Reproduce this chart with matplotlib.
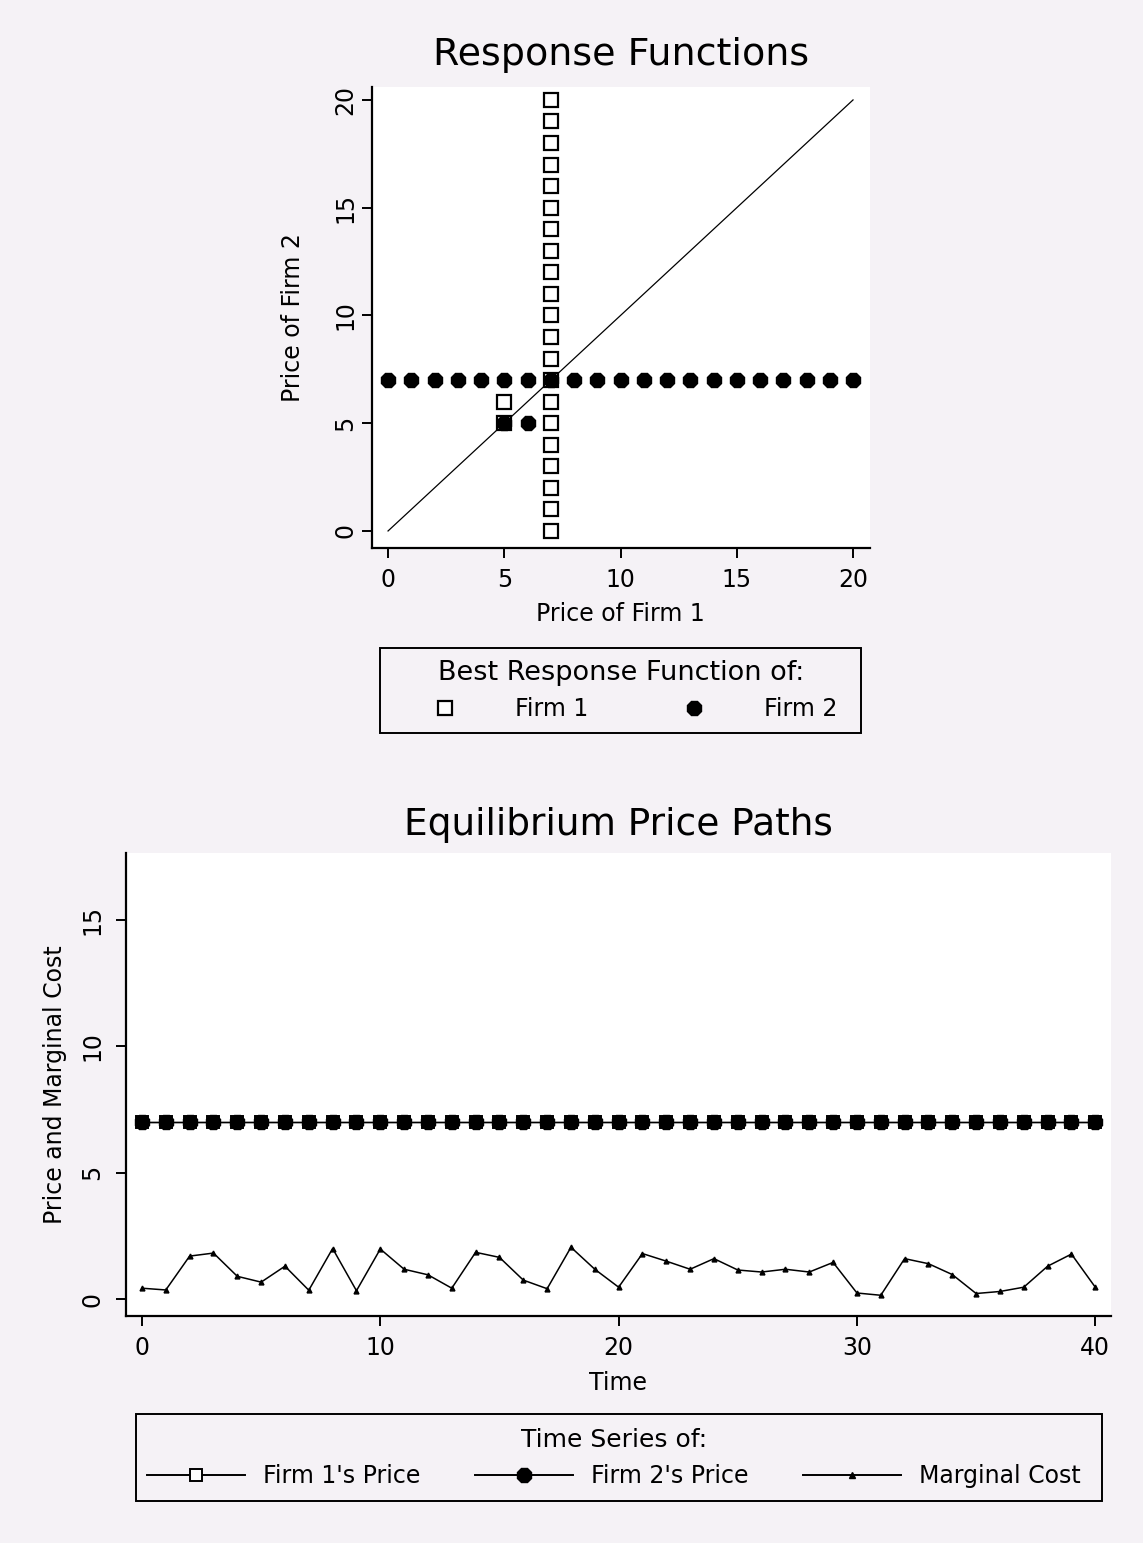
import matplotlib
matplotlib.use("Agg")
import matplotlib.pyplot as plt
from matplotlib.lines import Line2D
from matplotlib.patches import Rectangle

plt.rcParams['font.family'] = ['DejaVu Sans']

# ---------------- data ----------------
# Best response of Firm 1 (p1 given p2)
firm1_br_p1 = [7, 7, 7, 7, 7, 7, 7, 7, 7, 7, 7, 7, 7, 7, 7, 7, 7, 7, 7, 7, 7, 5, 5]
firm1_br_p2 = [0, 1, 2, 3, 4, 5, 6, 7, 8, 9, 10, 11, 12, 13, 14, 15, 16, 17, 18, 19, 20, 5, 6]
# Best response of Firm 2 (p2 given p1)
firm2_br_p1 = [0, 1, 2, 3, 4, 5, 6, 7, 8, 9, 10, 11, 12, 13, 14, 15, 16, 17, 18, 19, 20, 5, 6]
firm2_br_p2 = [7, 7, 7, 7, 7, 7, 7, 7, 7, 7, 7, 7, 7, 7, 7, 7, 7, 7, 7, 7, 7, 5, 5]
diag = [0, 20]

time = [0, 1, 2, 3, 4, 5, 6, 7, 8, 9, 10, 11, 12, 13, 14, 15, 16, 17, 18, 19, 20,
        21, 22, 23, 24, 25, 26, 27, 28, 29, 30, 31, 32, 33, 34, 35, 36, 37, 38, 39, 40]
firm1_price = [7, 7, 7, 7, 7, 7, 7, 7, 7, 7, 7, 7, 7, 7, 7, 7, 7, 7, 7, 7, 7,
               7, 7, 7, 7, 7, 7, 7, 7, 7, 7, 7, 7, 7, 7, 7, 7, 7, 7, 7, 7]
firm2_price = [7, 7, 7, 7, 7, 7, 7, 7, 7, 7, 7, 7, 7, 7, 7, 7, 7, 7, 7, 7, 7,
               7, 7, 7, 7, 7, 7, 7, 7, 7, 7, 7, 7, 7, 7, 7, 7, 7, 7, 7, 7]
marginal_cost = [0.43, 0.36, 1.70, 1.82, 0.90, 0.67, 1.30, 0.35, 2.00, 0.33, 1.98,
                 1.18, 0.96, 0.43, 1.85, 1.65, 0.75, 0.41, 2.05, 1.18, 0.47,
                 1.80, 1.50, 1.18, 1.60, 1.15, 1.07, 1.18, 1.07, 1.45, 0.24,
                 0.15, 1.60, 1.40, 0.97, 0.22, 0.30, 0.47, 1.30, 1.78, 0.47]

top_ticks = [0, 5, 10, 15, 20]
bottom_xticks = [0, 10, 20, 30, 40]
bottom_yticks = [0, 5, 10, 15]

# ---------------- figure ----------------
W, H = 1143, 1543
BG = '#f5f2f6'
fig = plt.figure(figsize=(W / 100, H / 100), dpi=100, facecolor=BG)


def rect(l, t, r, b):
    return [l / W, 1 - b / H, (r - l) / W, (b - t) / H]


def frame(l, t, r, b):
    fig.add_artist(Rectangle((l / W, 1 - b / H), (r - l) / W, (b - t) / H,
                             transform=fig.transFigure, facecolor='none',
                             edgecolor='black', linewidth=1.4, zorder=5))


def style(ax, xpad, ypad):
    ax.set_facecolor('white')
    for s in ['top', 'right']:
        ax.spines[s].set_visible(False)
    for s in ['left', 'bottom']:
        ax.spines[s].set_linewidth(1.6)
    ax.tick_params(axis='both', direction='out', length=7.5, width=1.4,
                   labelsize=17, colors='black')
    ax.tick_params(axis='x', pad=xpad)
    ax.tick_params(axis='y', pad=ypad)
    for lab in ax.get_yticklabels():
        lab.set_rotation(90)
        lab.set_va('center')


# ---- top panel ----
ax1 = fig.add_axes(rect(372, 87, 870, 548))
ax1.plot(diag, diag, color='black', lw=0.9)
ax1.plot(firm1_br_p1, firm1_br_p2, ls='none', marker='s', ms=9.5,
         mfc='white', mec='black', mew=1.6)
ax1.plot(firm2_br_p1, firm2_br_p2, ls='none', marker='8', ms=11,
         mfc='black', mec='black')
ax1.set_xlim(-0.69, 20.73)
ax1.set_ylim(-0.79, 20.6)
ax1.set_xticks(top_ticks)
ax1.set_yticks(top_ticks)
style(ax1, 7, 3)
ax1.set_title('Response Functions', fontsize=27.4, pad=16)
fig.text(620 / W, 1 - 614 / H, 'Price of Firm 1', fontsize=17, ha='center', va='center')
fig.text(293 / W, 1 - 318 / H, 'Price of Firm 2', fontsize=17, ha='center', va='center',
         rotation=90)

h1 = Line2D([], [], ls='none', marker='s', ms=9.5, mfc='white', mec='black', mew=1.6)
h2 = Line2D([], [], ls='none', marker='8', ms=11, mfc='black', mec='black')
fig.legend([h1, h2], ['Firm 1', 'Firm 2'], ncol=2, loc='center',
           bbox_to_anchor=(621 / W, 1 - 690.5 / H),
           title='Best Response Function of:', title_fontsize=19.5,
           fontsize=17, frameon=False, handlelength=3.47, handletextpad=1.23,
           columnspacing=2.75, borderpad=0.2, labelspacing=0.5)
frame(380, 648, 861, 733)

# ---- bottom panel ----
ax2 = fig.add_axes(rect(126, 853, 1111, 1316))
ax2.plot(time, firm1_price, color='black', lw=1.0, marker='s', ms=9,
         mfc='white', mec='black', mew=1.4)
ax2.plot(time, firm2_price, color='black', lw=1.0, marker='8', ms=11.5,
         mfc='black', mec='black')
ax2.plot(time, marginal_cost, color='black', lw=1.1, marker='^', ms=3.5,
         mfc='black', mec='black')
ax2.set_xlim(-0.67, 40.66)
ax2.set_ylim(-0.67, 17.65)
ax2.set_xticks(bottom_xticks)
ax2.set_yticks(bottom_yticks)
style(ax2, 7, 8)
ax2.set_title('Equilibrium Price Paths', fontsize=27, pad=13)
fig.text(618 / W, 1 - 1383 / H, 'Time', fontsize=17, ha='center', va='center')
fig.text(55 / W, 1 - 1085 / H, 'Price and Marginal Cost', fontsize=17, ha='center',
         va='center', rotation=90)

g1 = Line2D([], [], color='black', lw=1.4, marker='s', ms=8, mfc='white', mec='black', mew=1.4)
g2 = Line2D([], [], color='black', lw=1.4, marker='8', ms=11, mfc='black', mec='black')
g3 = Line2D([], [], color='black', lw=1.4, marker='^', ms=4, mfc='black', mec='black')
fig.legend([g1, g2, g3], ["Firm 1's Price", "Firm 2's Price", 'Marginal Cost'],
           ncol=3, loc='center', bbox_to_anchor=(614 / W, 1 - 1458 / H),
           title='Time Series of:', title_fontsize=18, fontsize=17,
           frameon=False, handlelength=4.15, handletextpad=0.76,
           columnspacing=2.3, borderpad=0.2, labelspacing=0.55)
frame(136, 1414, 1102, 1501)

fig.savefig('out.png', dpi=100, facecolor=BG)
